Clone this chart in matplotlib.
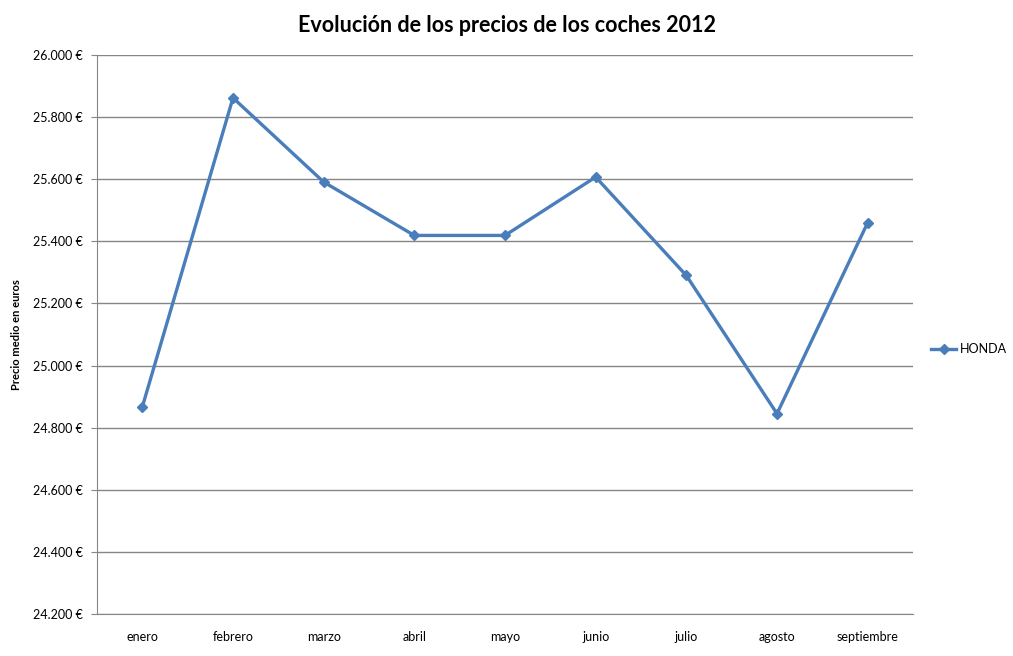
import matplotlib.pyplot as plt
from matplotlib.ticker import FuncFormatter

# datos
meses = ['enero', 'febrero', 'marzo', 'abril', 'mayo', 'junio',
         'julio', 'agosto', 'septiembre']
honda = [24867, 25862, 25591, 25419, 25419, 25607, 25290, 24845, 25460]
y_ticks = [24200, 24400, 24600, 24800, 25000, 25200, 25400, 25600, 25800, 26000]

plt.rcParams['font.family'] = ['Lato', 'DejaVu Sans']

fig = plt.figure(figsize=(10.13, 6.56), dpi=100)
ax = fig.add_axes([97 / 1013, 1 - 614 / 656, 816 / 1013, 559 / 656])

x = list(range(len(meses)))
ax.plot(x, honda, color='#4A7EBB', linewidth=2.4, marker='D', markersize=5.5,
        label='HONDA', zorder=3)

ax.set_xlim(-0.5, len(meses) - 0.5)
ax.set_ylim(24200, 26000)
ax.set_yticks(y_ticks)
ax.yaxis.set_major_formatter(
    FuncFormatter(lambda v, p: '{:,.0f} €'.format(v).replace(',', '.')))
ax.set_xticks(x)
ax.set_xticklabels(meses)
ax.tick_params(axis='x', length=0, pad=12, labelsize=9)
ax.tick_params(axis='y', length=4, color='#868686', pad=6, labelsize=9)

ax.grid(axis='y', color='#868686', linewidth=1)
ax.set_axisbelow(True)
for s in ['top', 'right']:
    ax.spines[s].set_visible(False)
for s in ['left', 'bottom']:
    ax.spines[s].set_color('#868686')

ax.set_ylabel('Precio medio en euros', fontsize=8, fontweight='bold', labelpad=8)
fig.text(0.5, 1 - 25 / 656, 'Evolución de los precios de los coches 2012',
         ha='center', va='center', fontsize=15.5, fontweight='bold')

fig.legend(loc='center left', bbox_to_anchor=(931 / 1013, 1 - 349 / 656),
           frameon=False, fontsize=9, handlelength=2.0, handletextpad=0.3,
           borderpad=0, borderaxespad=0)

fig.savefig('out.png', dpi=100)
